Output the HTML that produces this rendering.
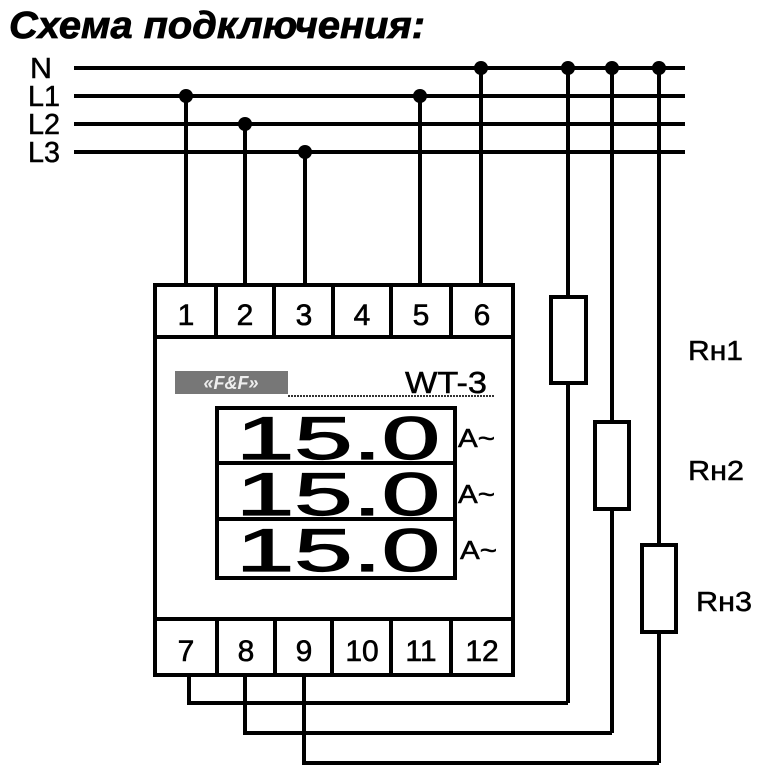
<!DOCTYPE html>
<html><head><meta charset="utf-8"><style>html,body{margin:0;padding:0;background:#fff}svg{display:block}</style></head>
<body>
<svg width="768" height="768" viewBox="0 0 768 768" xmlns="http://www.w3.org/2000/svg" font-family="Liberation Sans, Arial, sans-serif">
<rect width="768" height="768" fill="#fff"/>
<text x="9" y="38" font-size="38" font-weight="bold" font-style="italic" fill="#000" stroke="#000" stroke-width="0.8" textLength="416" lengthAdjust="spacingAndGlyphs">Схема подключения:</text>
<g font-size="29" fill="#000" stroke="#000" stroke-width="0.5">
<text x="30" y="78" textLength="22" lengthAdjust="spacingAndGlyphs">N</text>
<text x="28" y="106" textLength="32" lengthAdjust="spacingAndGlyphs">L1</text>
<text x="28" y="134" textLength="32" lengthAdjust="spacingAndGlyphs">L2</text>
<text x="28" y="162" textLength="32" lengthAdjust="spacingAndGlyphs">L3</text>
</g>
<g stroke="#000" stroke-width="4" fill="none">
<line x1="74" y1="68" x2="685" y2="68"/>
<line x1="74" y1="96" x2="685" y2="96"/>
<line x1="74" y1="124" x2="685" y2="124"/>
<line x1="74" y1="152" x2="685" y2="152"/>
<line x1="186" y1="96" x2="186" y2="285"/>
<line x1="245" y1="124" x2="245" y2="285"/>
<line x1="305" y1="152" x2="305" y2="285"/>
<line x1="420" y1="96" x2="420" y2="285"/>
<line x1="481" y1="68" x2="481" y2="285"/>
<line x1="568" y1="68" x2="568" y2="297"/>
<line x1="568" y1="383" x2="568" y2="703"/>
<line x1="612" y1="68" x2="612" y2="422"/>
<line x1="612" y1="509" x2="612" y2="733"/>
<line x1="659" y1="68" x2="659" y2="545"/>
<line x1="659" y1="632" x2="659" y2="763"/>
<rect x="551" y="297" width="35" height="86"/>
<rect x="595" y="422" width="34" height="87"/>
<rect x="642" y="545" width="34" height="87"/>
<polyline points="189,675 189,703 568,703"/>
<polyline points="245,675 245,733 612,733"/>
<polyline points="304,675 304,763 659,763"/>
<rect x="155" y="285" width="358" height="390"/>
<line x1="155" y1="337" x2="513" y2="337"/>
<line x1="155" y1="619" x2="513" y2="619"/>
<line x1="216" y1="285" x2="216" y2="337"/>
<line x1="274" y1="285" x2="274" y2="337"/>
<line x1="333" y1="285" x2="333" y2="337"/>
<line x1="391" y1="285" x2="391" y2="337"/>
<line x1="451" y1="285" x2="451" y2="337"/>
<line x1="217" y1="619" x2="217" y2="675"/>
<line x1="275" y1="619" x2="275" y2="675"/>
<line x1="332" y1="619" x2="332" y2="675"/>
<line x1="391" y1="619" x2="391" y2="675"/>
<line x1="451" y1="619" x2="451" y2="675"/>
<rect x="217" y="408" width="238" height="170"/>
<line x1="217" y1="463" x2="455" y2="463"/>
<line x1="217" y1="519" x2="455" y2="519"/>
</g>
<g fill="#000">
<circle cx="186" cy="96" r="7"/><circle cx="245" cy="124" r="7"/><circle cx="305" cy="152" r="7"/>
<circle cx="420" cy="96" r="7"/><circle cx="481" cy="68" r="7"/><circle cx="568" cy="68" r="7"/>
<circle cx="612" cy="68" r="7"/><circle cx="659" cy="68" r="7"/>
</g>
<g font-size="30" fill="#000" stroke="#000" stroke-width="0.6" text-anchor="middle">
<text x="186" y="325">1</text><text x="245" y="325">2</text><text x="304" y="325">3</text>
<text x="362" y="325">4</text><text x="421" y="325">5</text><text x="482" y="325">6</text>
<text x="186" y="661">7</text><text x="246" y="661">8</text><text x="304" y="661">9</text>
<text x="362" y="661">10</text><text x="421" y="661">11</text><text x="482" y="661">12</text>
</g>
<rect x="175" y="371" width="113" height="23" fill="#777"/>
<text x="231" y="389" font-size="18" font-weight="bold" font-style="italic" fill="#eee" text-anchor="middle">«F&amp;F»</text>
<line x1="288" y1="396" x2="495" y2="396" stroke="#333" stroke-width="2" stroke-dasharray="2,1"/>
<text x="405" y="393" font-size="31" fill="#000" stroke="#000" stroke-width="0.5" textLength="82" lengthAdjust="spacingAndGlyphs">WT-3</text>
<g font-size="60" fill="#000" stroke="#000" stroke-width="1.2">
<text x="236" y="459" textLength="204" lengthAdjust="spacingAndGlyphs">15.0</text>
<text x="236" y="515" textLength="204" lengthAdjust="spacingAndGlyphs">15.0</text>
<text x="236" y="571" textLength="204" lengthAdjust="spacingAndGlyphs">15.0</text>
</g>
<g font-size="26" fill="#000" stroke="#000" stroke-width="0.5">
<text x="458" y="447" textLength="37" lengthAdjust="spacingAndGlyphs">A~</text>
<text x="458" y="503" textLength="37" lengthAdjust="spacingAndGlyphs">A~</text>
<text x="460" y="559" textLength="37" lengthAdjust="spacingAndGlyphs">A~</text>
</g>
<g font-size="28" fill="#000" stroke="#000" stroke-width="0.5">
<text x="688" y="360" textLength="55" lengthAdjust="spacingAndGlyphs">Rн1</text>
<text x="688" y="480" textLength="56" lengthAdjust="spacingAndGlyphs">Rн2</text>
<text x="696" y="611" textLength="56" lengthAdjust="spacingAndGlyphs">Rн3</text>
</g>
</svg>
</body></html>
